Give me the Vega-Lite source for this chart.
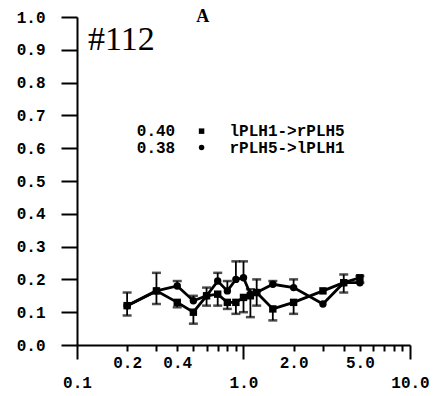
{
  "$schema": "https://vega.github.io/schema/vega-lite/v6.json",
  "width": 333,
  "height": 328,
  "autosize": {"type": "none"},
  "padding": {"left": 77, "top": 17, "right": 25, "bottom": 51},
  "background": "white",
  "config": {
    "view": {"stroke": null}
  },
  "datasets": {
    "pts": [
      {"x": 0.2, "y": 0.12, "s": "circle", "lo": 0.12, "hi": 0.16},
      {"x": 0.3, "y": 0.165, "s": "circle", "lo": 0.165, "hi": 0.22},
      {"x": 0.4, "y": 0.18, "s": "circle", "lo": 0.18, "hi": 0.195},
      {"x": 0.5, "y": 0.135, "s": "circle", "lo": 0.135, "hi": 0.15},
      {"x": 0.6, "y": 0.15, "s": "circle", "lo": 0.15, "hi": 0.175},
      {"x": 0.7, "y": 0.195, "s": "circle", "lo": 0.195, "hi": 0.22},
      {"x": 0.8, "y": 0.165, "s": "circle", "lo": 0.165, "hi": 0.195},
      {"x": 0.9, "y": 0.2, "s": "circle", "lo": 0.2, "hi": 0.255},
      {"x": 1.0, "y": 0.205, "s": "circle", "lo": 0.205, "hi": 0.255},
      {"x": 1.1, "y": 0.155, "s": "circle", "lo": 0.155, "hi": 0.17},
      {"x": 1.2, "y": 0.16, "s": "circle", "lo": 0.16, "hi": 0.2},
      {"x": 1.5, "y": 0.185, "s": "circle", "lo": 0.185, "hi": 0.195},
      {"x": 2.0, "y": 0.175, "s": "circle", "lo": 0.175, "hi": 0.2},
      {"x": 3.0, "y": 0.125, "s": "circle", "lo": 0.125, "hi": 0.125},
      {"x": 4.0, "y": 0.19, "s": "circle", "lo": 0.19, "hi": 0.215},
      {"x": 5.0, "y": 0.19, "s": "circle", "lo": 0.19, "hi": 0.21},
      {"x": 0.2, "y": 0.12, "s": "square", "lo": 0.09, "hi": 0.12},
      {"x": 0.3, "y": 0.165, "s": "square", "lo": 0.125, "hi": 0.165},
      {"x": 0.4, "y": 0.13, "s": "square", "lo": 0.115, "hi": 0.13},
      {"x": 0.5, "y": 0.1, "s": "square", "lo": 0.065, "hi": 0.1},
      {"x": 0.6, "y": 0.15, "s": "square", "lo": 0.12, "hi": 0.15},
      {"x": 0.7, "y": 0.155, "s": "square", "lo": 0.12, "hi": 0.155},
      {"x": 0.8, "y": 0.13, "s": "square", "lo": 0.11, "hi": 0.13},
      {"x": 0.9, "y": 0.13, "s": "square", "lo": 0.095, "hi": 0.13},
      {"x": 1.0, "y": 0.145, "s": "square", "lo": 0.1, "hi": 0.145},
      {"x": 1.1, "y": 0.15, "s": "square", "lo": 0.085, "hi": 0.15},
      {"x": 1.2, "y": 0.16, "s": "square", "lo": 0.12, "hi": 0.16},
      {"x": 1.5, "y": 0.11, "s": "square", "lo": 0.075, "hi": 0.11},
      {"x": 2.0, "y": 0.13, "s": "square", "lo": 0.095, "hi": 0.13},
      {"x": 3.0, "y": 0.165, "s": "square", "lo": 0.165, "hi": 0.165},
      {"x": 4.0, "y": 0.19, "s": "square", "lo": 0.16, "hi": 0.19},
      {"x": 5.0, "y": 0.205, "s": "square", "lo": 0.19, "hi": 0.205}
    ],
    "legendtext": [
      {"x": 0.2287, "y": 0.652, "t": "0.40"},
      {"x": 0.2287, "y": 0.602, "t": "0.38"},
      {"x": 0.824, "y": 0.652, "t": "lPLH1->rPLH5"},
      {"x": 0.824, "y": 0.602, "t": "rPLH5->lPLH1"}
    ],
    "legendmarks": [
      {"x": 0.56, "y": 0.652, "s": "square"},
      {"x": 0.56, "y": 0.602, "s": "circle"}
    ],
    "title1": [{"x": 0.1164, "y": 0.93, "t": "#112"}],
    "title2": [{"x": 0.569, "y": 1.0, "t": "A"}]
  },
  "layer": [
    {
      "data": {"name": "pts"},
      "mark": {"type": "rule", "color": "black", "strokeWidth": 1.8},
      "encoding": {
        "x": {"field": "x", "type": "quantitative", "scale": {"type": "log", "domain": [0.1, 10], "nice": false},
          "axis": {
            "values": [0.1, 0.2, 0.3, 0.4, 0.5, 0.6, 0.7, 0.8, 0.9, 1, 2, 3, 4, 5, 6, 7, 8, 9, 10],
            "labelExpr": "indexof([0.1, 0.2, 0.4, 1, 2, 5, 10], datum.value) >= 0 ? format(datum.value, '.1f') : ''",
            "title": null, "grid": false, "labelOverlap": false, "labelFlush": false,
            "domainColor": "black", "domainWidth": 2, "tickColor": "black", "tickWidth": 2,
            "tickSize": {"condition": {"test": "datum.value == 0.1 || datum.value == 1 || datum.value == 10", "value": 14}, "value": 6},
            "labelPadding": {"condition": {"test": "datum.value == 0.1 || datum.value == 1 || datum.value == 10", "value": 15}, "value": 3},
            "labelFont": "Liberation Mono", "labelFontWeight": "bold", "labelFontSize": 16, "labelColor": "black"
          }
        },
        "y": {"field": "lo", "type": "quantitative", "scale": {"domain": [0, 1], "nice": false, "zero": false},
          "axis": {
            "values": [0, 0.1, 0.2, 0.3, 0.4, 0.5, 0.6, 0.7, 0.8, 0.9, 1],
            "tickCount": 11,
            "labelExpr": "format(datum.value, '.1f')",
            "title": null, "grid": false, "labelOverlap": false, "labelFlush": false, "labelBound": false,
            "domainColor": "black", "domainWidth": 2, "tickColor": "black", "tickWidth": 2,
            "tickSize": 16, "labelPadding": 16,
            "labelFont": "Liberation Mono", "labelFontWeight": "bold", "labelFontSize": 16, "labelColor": "black"
          }
        },
        "y2": {"field": "hi"}
      }
    },
    {
      "data": {"name": "pts"},
      "transform": [{"filter": "datum.hi > datum.y"}],
      "mark": {"type": "tick", "orient": "horizontal", "size": 9, "thickness": 2.5, "color": "black"},
      "encoding": {
        "x": {"field": "x", "type": "quantitative"},
        "y": {"field": "hi", "type": "quantitative"}
      }
    },
    {
      "data": {"name": "pts"},
      "transform": [{"filter": "datum.lo < datum.y"}],
      "mark": {"type": "tick", "orient": "horizontal", "size": 9, "thickness": 2.5, "color": "black"},
      "encoding": {
        "x": {"field": "x", "type": "quantitative"},
        "y": {"field": "lo", "type": "quantitative"}
      }
    },
    {
      "data": {"name": "pts"},
      "mark": {"type": "line", "color": "black", "strokeWidth": 2.8},
      "encoding": {
        "x": {"field": "x", "type": "quantitative"},
        "y": {"field": "y", "type": "quantitative"},
        "detail": {"field": "s"},
        "order": {"field": "x", "type": "quantitative"}
      }
    },
    {
      "data": {"name": "pts"},
      "mark": {"type": "point", "filled": true, "color": "black", "opacity": 1, "size": 55},
      "encoding": {
        "x": {"field": "x", "type": "quantitative"},
        "y": {"field": "y", "type": "quantitative"},
        "shape": {"field": "s", "type": "nominal", "scale": {"domain": ["circle", "square"], "range": ["circle", "square"]}, "legend": null}
      }
    },
    {
      "data": {"name": "legendmarks"},
      "mark": {"type": "point", "filled": true, "color": "black", "opacity": 1, "size": 30},
      "encoding": {
        "x": {"field": "x", "type": "quantitative"},
        "y": {"field": "y", "type": "quantitative"},
        "shape": {"field": "s", "type": "nominal", "legend": null}
      }
    },
    {
      "data": {"name": "legendtext"},
      "mark": {"type": "text", "align": "left", "baseline": "middle", "font": "Liberation Mono", "fontWeight": "bold", "fontSize": 16, "color": "black"},
      "encoding": {
        "x": {"field": "x", "type": "quantitative"},
        "y": {"field": "y", "type": "quantitative"},
        "text": {"field": "t"}
      }
    },
    {
      "data": {"name": "title1"},
      "mark": {"type": "text", "align": "left", "baseline": "middle", "font": "Liberation Serif", "fontSize": 34, "color": "black"},
      "encoding": {
        "x": {"field": "x", "type": "quantitative"},
        "y": {"field": "y", "type": "quantitative"},
        "text": {"field": "t"}
      }
    },
    {
      "data": {"name": "title2"},
      "mark": {"type": "text", "align": "center", "baseline": "middle", "font": "Liberation Serif", "fontWeight": "bold", "fontSize": 18, "color": "black"},
      "encoding": {
        "x": {"field": "x", "type": "quantitative"},
        "y": {"field": "y", "type": "quantitative"},
        "text": {"field": "t"}
      }
    }
  ]
}
